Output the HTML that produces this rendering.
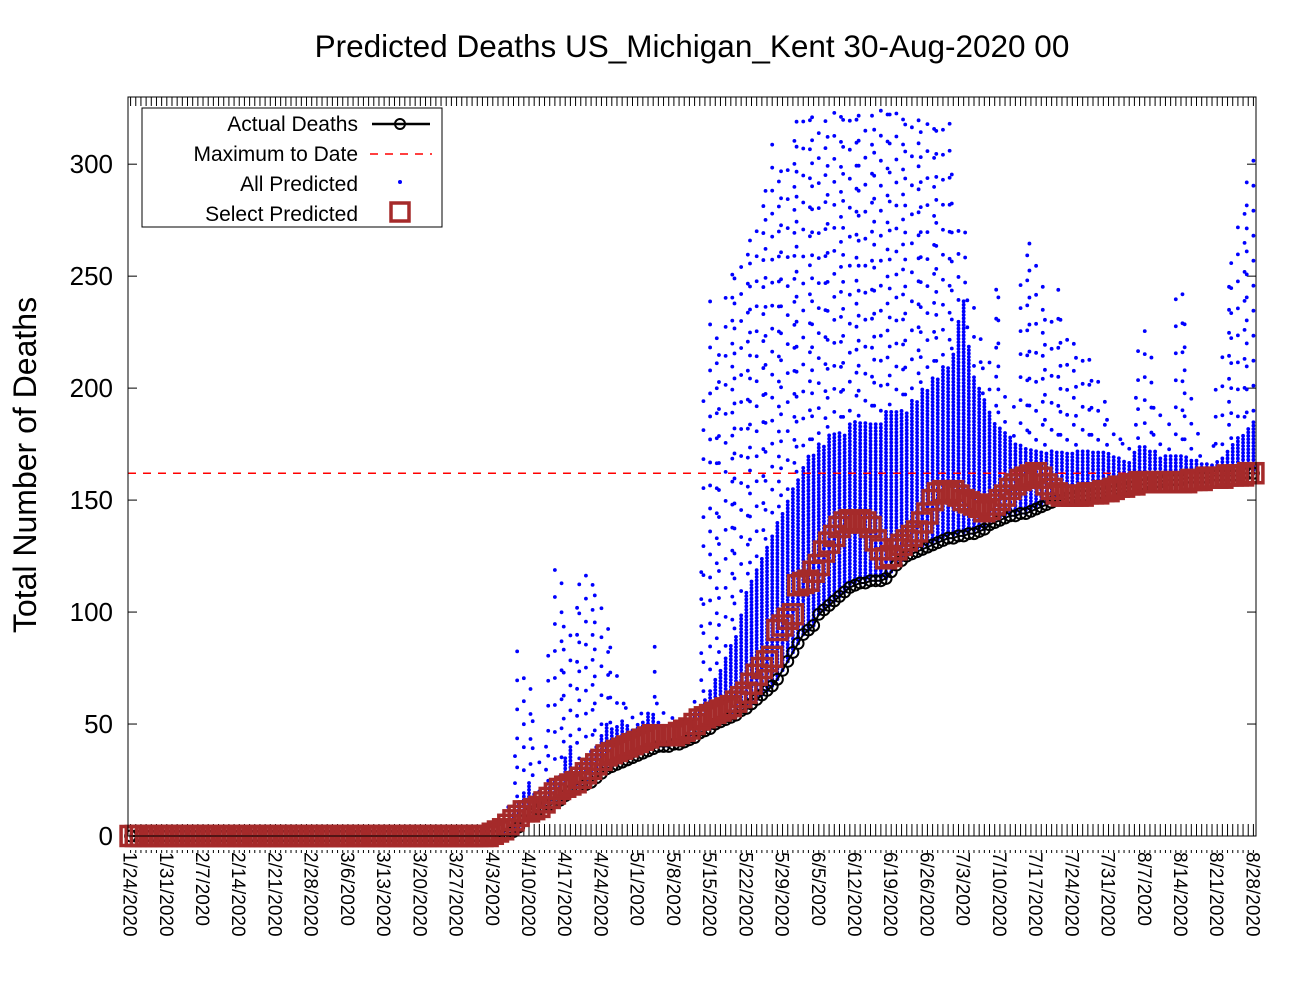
<!DOCTYPE html>
<html><head><meta charset="utf-8"><style>
body{margin:0;background:#fff;}
svg text{font-family:"Liberation Sans",sans-serif;}
</style></head><body>
<svg id="chart" width="1300" height="1000" xmlns="http://www.w3.org/2000/svg">
<rect width="1300" height="1000" fill="#fff"/>
<text x="692" y="57" font-size="31.5" text-anchor="middle">Predicted Deaths US_Michigan_Kent 30-Aug-2020 00</text>
<text transform="translate(36,465) rotate(-90)" font-size="32" text-anchor="middle">Total Number of Deaths</text>
<g id="ticks"></g>
<g id="plot"></g>
<rect x="128" y="97" width="1128" height="739" fill="none" stroke="#000" stroke-width="1"/>
<g id="legend">
<rect x="142" y="108" width="300" height="119" fill="#fff" stroke="#000" stroke-width="1"/>
<g>
<text x="358" y="131" font-size="21" text-anchor="end">Actual Deaths</text>
<line x1="372" y1="124" x2="430" y2="124" stroke="#000" stroke-width="2.5"/>
<circle cx="400" cy="124" r="5" fill="none" stroke="#000" stroke-width="2"/>
</g>
<g>
<text x="358" y="161" font-size="21" text-anchor="end">Maximum to Date</text>
<line x1="370" y1="154" x2="432" y2="154" stroke="#f00" stroke-width="1.5" stroke-dasharray="8,7"/>
</g>
<g>
<text x="358" y="191" font-size="21" text-anchor="end">All Predicted</text>
<circle cx="400" cy="182" r="2" fill="#00f"/>
</g>
<g>
<text x="358" y="221" font-size="21" text-anchor="end">Select Predicted</text>
<rect x="391" y="203" width="18" height="18" fill="none" stroke="#a52a2a" stroke-width="3.5"/>
</g>
</g>
</svg>
<script>
const startDate = [2020, 0, 24];
const nDays = 218;
const yTicks = [0, 50, 100, 150, 200, 250, 300];
const maxToDate = 162;
// actual cumulative deaths, days 73..217 (zero before)
const actualStart = 73;
const actualVals = [1,2,4,7,10,11,12,13,14,15,16,18,20,21,22,23,24,26,28,30,31,32,33,34,35,36,37,38,39,40,40,40,41,41,42,43,44,46,47,48,50,51,52,53,54,56,57,59,61,63,65,67,70,74,78,82,86,90,92,94,99,101,103,105,107,109,111,112,113,113,114,114,114,115,118,121,123,125,126,127,128,129,130,131,132,133,133,134,134,135,135,136,137,139,140,141,142,143,143,144,144,145,146,147,148,149,150,150,151,151,152,152,152,153,153,153,154,154,155,155,156,156,157,157,158,158,158,159,159,159,159,160,160,160,160,160,161,161,161,161,161,161,162,162,162];
// selected prediction, days 70..217 (zero before)
const selectStart = 70;
const selectVals = [1,2,3,5,7,9,11,11,12,13,15,17,19,21,22,23,24,26,28,30,32,34,36,37,38,39,40,41,42,43,44,45,45,45,45,45,46,47,48,50,52,53,54,55,56,57,58,60,62,64,68,72,75,78,80,92,94,97,99,112,113,114,118,121,127,131,134,138,140,141,140,141,140,138,132,128,124,125,128,130,132,134,136,140,144,150,153,154,153,154,152,150,149,148,147,145,146,148,150,152,155,157,159,160,161,162,160,157,155,153,152,152,152,152,152,153,153,153,154,154,155,156,156,157,157,158,158,158,158,158,158,158,158,158,158,159,159,159,160,160,160,160,161,161,161,161,162,162];
// all-predicted cloud, days 70..217: dense top and sparse top
const predStart = 70;
const denseHigh = [0,0,3,8,12,15,20, 25,20,15,18,22,25,28, 35,40,30,32,35,38,40, 45,50,48,50,52,50,48, 50,52,55,55,52,50,50, 50,48,48,50,55,58,62, 65,70,75,80,85,90,100, 110,115,120,125,130,135,140, 145,150,155,160,165,170,170, 175,175,180,180,180,180,185, 185,185,185,185,185,185,190, 190,190,190,190,195,195,200, 200,205,205,210,210,215,230, 240,220,205,200,195,190,185, 182,180,178,176,175,174,173, 172,172,172,172,172,172,172, 172,172,172,172,172,172,172, 172,170,170,168,168,172,175, 175,173,172,170,170,170,170, 170,170,168,168,167,167,167, 168,170,172,175,178,180,182,185];
const sparseHigh = [0,0,0,20,40,90,80, 70,60,40,50,90,130,120, 100,90,110,120,120,115,110, 105,100,90,80,70,60,60, 55,55,60,85,70,60,55, 55,55,55,55,70,120,200, 240,230,220,250,260,250,255, 260,270,280,290,300,310,300, 300,310,320,320,320,320,325, 325,325,325,325,325,325,325, 325,325,325,325,325,325,325, 325,325,325,325,325,325,325, 325,325,325,325,325,300,280, 270,250,240,230,220,220,255, 250,200,180,200,250,260,270, 260,250,240,230,250,240,230, 220,220,220,220,215,210,200, 190,180,180,180,175,200,220, 230,220,200,190,180,190,240, 250,235,200,190,180,175,175, 200,220,250,260,280,290,300,310];

const X0 = 128, X1 = 1256, Y0 = 836, Y1 = 97, YMAX = 330;
const xs = d => X0 + (d + 0.5) * (X1 - X0) / nDays;
const ys = v => Y0 - v * (Y0 - Y1) / YMAX;
const NS = "http://www.w3.org/2000/svg";
function mk(tag, attrs, parent){const e=document.createElementNS(NS,tag);for(const k in attrs)e.setAttribute(k,attrs[k]);parent.appendChild(e);return e;}
const ticks = document.getElementById('ticks');
const plot = document.getElementById('plot');
function actualAt(d){return d<actualStart?0:actualVals[d-actualStart];}

// y ticks
yTicks.forEach(v=>{
  const y=ys(v);
  mk('line',{x1:X0,y1:y,x2:X0+9,y2:y,stroke:'#000'},ticks);
  mk('line',{x1:X1-9,y1:y,x2:X1,y2:y,stroke:'#000'},ticks);
  const t=mk('text',{x:113,y:y+9,'font-size':26,'text-anchor':'end'},ticks);
  
  
  t.textContent=v;
});
// x ticks
for(let d=0;d<nDays;d++){
  const x=xs(d);
  mk('line',{x1:x,y1:Y1,x2:x,y2:Y1+9,stroke:'#000'},ticks);
  mk('line',{x1:x,y1:Y0-12,x2:x,y2:Y0,stroke:'#000'},ticks);
  mk('line',{x1:x,y1:Y0+14,x2:x,y2:Y0+17,stroke:'#000'},ticks);
  if(d%7===0){
    const dt=new Date(startDate[0],startDate[1],startDate[2]+d);
    const lbl=(dt.getMonth()+1)+'/'+dt.getDate()+'/'+dt.getFullYear();
    const t=mk('text',{transform:`translate(${x-7},852) rotate(90)`,'font-size':19},ticks);
    
    
    t.textContent=lbl;
  }
}
// all predicted cloud
const cloud=mk('g',{fill:'#00f'},plot);


for(let i=0;i<denseHigh.length;i++){
  const d=predStart+i, x=xs(d);
  const lo=actualAt(d), hi=denseHigh[i], sh=sparseHigh[i];
  if(hi>0){
    for(let y=ys(lo);y>=ys(hi);y-=3.4){mk('circle',{cx:x,cy:y,r:1.9},cloud);}
  }
  if(sh>hi){
    let y=ys(Math.max(hi,lo))-(d%2?6:16)-(d%3)*5;
    for(;y>=ys(sh);y-=23+(d%4)*2){mk('circle',{cx:x+(d%3-1)*1.5,cy:y,r:1.9},cloud);}
  }
}
// max to date line
const ml=mk('line',{x1:X0,y1:ys(maxToDate),x2:X1,y2:ys(maxToDate),stroke:'#f00','stroke-width':1.5,'stroke-dasharray':'8,7'},plot);


// actual
let pts=[];for(let d=0;d<nDays;d++)pts.push(xs(d)+','+ys(actualAt(d)));
const ag=mk('g',{},plot);


mk('polyline',{points:pts.join(' '),fill:'none',stroke:'#000','stroke-width':2},ag);
for(let d=0;d<nDays;d++)mk('circle',{cx:xs(d),cy:ys(actualAt(d)),r:5.5,fill:'none',stroke:'#000','stroke-width':2},ag);
// select predicted
const sg=mk('g',{fill:'none',stroke:'#a52a2a','stroke-width':3.5},plot);


for(let d=0;d<nDays;d++){
  const v=d<selectStart?0:selectVals[d-selectStart];
  mk('rect',{x:xs(d)-9.5,y:ys(v)-9.5,width:19,height:19},sg);
}
</script>
</body></html>
